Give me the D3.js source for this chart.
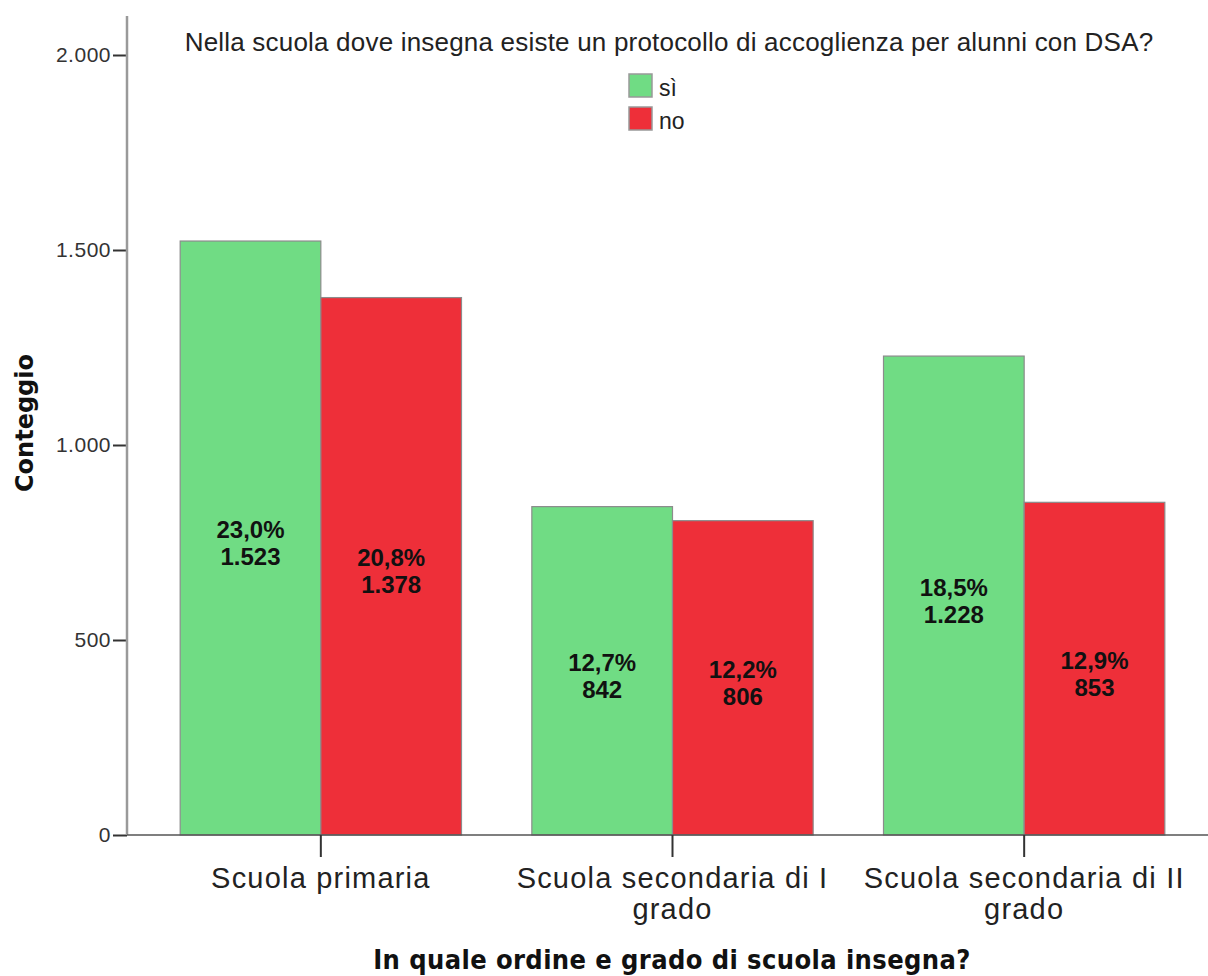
<!DOCTYPE html>
<html>
<head>
<meta charset="utf-8">
<script src="https://cdn.jsdelivr.net/npm/d3@7"></script>
<style>
  html, body { margin: 0; padding: 0; background: #fff; }
  svg { display: block; }
  text { font-family: "Liberation Sans", Arial, sans-serif; }
</style>
</head>
<body>
<svg id="chart" width="1208" height="976"></svg>
<script>
// ---- data ----
const categories = ["Scuola primaria", "Scuola secondaria di I grado", "Scuola secondaria di II grado"];
const categoryLines = [["Scuola primaria"], ["Scuola secondaria di I", "grado"], ["Scuola secondaria di II", "grado"]];
const seriesNames = ["sì", "no"];
const siValues = [1523, 842, 1228];
const noValues = [1378, 806, 853];
const siPercent = ["23,0%", "12,7%", "18,5%"];
const noPercent = ["20,8%", "12,2%", "12,9%"];
const yTicks = [0, 500, 1000, 1500, 2000];
const chartTitle = "Nella scuola dove insegna esiste un protocollo di accoglienza per alunni con DSA?";
const xTitle = "In quale ordine e grado di scuola insegna?";
const yTitle = "Conteggio";

const colors = { "sì": "#70dc84", "no": "#ee2f39" };

const it = d3.formatLocale({ decimal: ",", thousands: ".", grouping: [3], currency: ["€", ""] });
const fmt = it.format(",d");

const rows = categories.map((c, i) => ({
  cat: c,
  lines: categoryLines[i],
  values: [
    { key: "sì", value: siValues[i], pct: siPercent[i] },
    { key: "no", value: noValues[i], pct: noPercent[i] }
  ]
}));

const svg = d3.select("#chart");
const x0 = 127, yBase = 835;

const x = d3.scaleBand().domain(categories).range([145, 1200]).paddingInner(0.2).paddingOuter(0.1);
const x1 = d3.scaleBand().domain(seriesNames).range([0, x.bandwidth()]).padding(0);
const y = d3.scaleLinear().domain([0, 2100]).range([yBase, 16]);

// bars
const g = svg.append("g");
const groups = g.selectAll("g.grp").data(rows).join("g")
  .attr("transform", d => `translate(${x(d.cat)},0)`);

groups.selectAll("rect").data(d => d.values).join("rect")
  .attr("x", d => x1(d.key))
  .attr("y", d => y(d.value))
  .attr("width", x1.bandwidth())
  .attr("height", d => y(0) - y(d.value))
  .attr("fill", d => colors[d.key])
  .attr("stroke", "#8c8c8c")
  .attr("stroke-width", 1.2);

// value labels
const lab = groups.selectAll("g.lab").data(d => d.values).join("g")
  .attr("transform", d => `translate(${x1(d.key) + x1.bandwidth() / 2},${(y(d.value) + y(0)) / 2})`);
lab.append("text").attr("y", 0).attr("text-anchor", "middle")
  .style("font-weight", "bold").style("font-size", "24px")
  .attr("fill", "#111").text(d => d.pct);
lab.append("text").attr("y", 27).attr("text-anchor", "middle")
  .style("font-weight", "bold").style("font-size", "24px")
  .attr("fill", "#111").text(d => fmt(d.value));

// y axis
const yAxis = svg.append("g").attr("transform", `translate(${x0},0)`)
  .call(d3.axisLeft(y).tickValues(yTicks).tickFormat(fmt).tickSize(14).tickPadding(2));
yAxis.select(".domain").remove();
yAxis.selectAll(".tick line").attr("stroke", "#333").attr("stroke-width", 2);
yAxis.selectAll(".tick text").attr("fill", "#333").style("font-size", "21px").style("letter-spacing", "0.5px")
  .style("font-family", '"Liberation Sans", Arial, sans-serif');
svg.append("line").attr("x1", x0).attr("x2", x0).attr("y1", y(2100)).attr("y2", yBase)
  .attr("stroke", "#9a9a9a").attr("stroke-width", 2.5);

// x axis
svg.append("line").attr("x1", x0).attr("x2", 1208).attr("y1", yBase).attr("y2", yBase)
  .attr("stroke", "#555").attr("stroke-width", 1.5);
const xt = svg.append("g").selectAll("g").data(rows).join("g")
  .attr("transform", d => `translate(${x(d.cat) + x.bandwidth() / 2},${yBase})`);
xt.append("line").attr("y1", 0).attr("y2", 22).attr("stroke", "#333").attr("stroke-width", 2);
xt.each(function (d) {
  const t = d3.select(this).append("text").attr("text-anchor", "middle").attr("fill", "#222")
    .style("font-size", "29px").style("letter-spacing", "1.2px");
  d.lines.forEach((ln, i) => t.append("tspan").attr("x", 0).attr("y", 53 + i * 31).text(ln));
});

// titles
svg.append("text").attr("x", 669).attr("y", 51).attr("text-anchor", "middle")
  .attr("fill", "#222").style("font-size", "26px").style("letter-spacing", "0.2px").text(chartTitle);

svg.append("text").attr("x", 672).attr("y", 969).attr("text-anchor", "middle")
  .attr("fill", "#111").style("font-size", "27px").style("font-weight", "bold").style("letter-spacing", "0.4px")
  .style("font-family", '"DejaVu Sans Condensed", "Liberation Sans Narrow", sans-serif')
  .text(xTitle);

svg.append("text").attr("transform", "translate(33,423) rotate(-90)").attr("text-anchor", "middle")
  .attr("fill", "#111").style("font-size", "24px").style("font-weight", "bold")
  .style("font-family", '"DejaVu Sans", "Liberation Sans", sans-serif')
  .text(yTitle);

// legend
const leg = svg.append("g").selectAll("g").data(seriesNames).join("g")
  .attr("transform", (d, i) => `translate(629,${74 + i * 33})`);
leg.append("rect").attr("width", 23).attr("height", 23)
  .attr("fill", d => colors[d]).attr("stroke", "#999").attr("stroke-width", 1.5);
leg.append("text").attr("x", 30).attr("y", 22).attr("fill", "#222").style("font-size", "23px").text(d => d);
</script>
</body>
</html>
